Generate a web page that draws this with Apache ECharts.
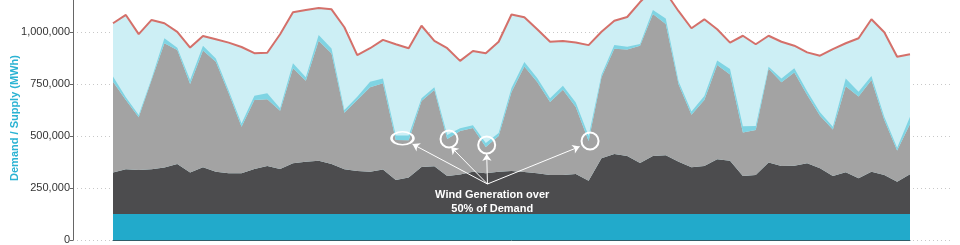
<!DOCTYPE html>
<html>
<head>
<meta charset="utf-8">
<script src="https://cdn.jsdelivr.net/npm/echarts@6/dist/echarts.min.js"></script>
<style>
html,body{margin:0;padding:0;background:#fff;overflow:hidden;}
#chart{width:960px;height:265px;margin-top:-20px;}
</style>
</head>
<body>
<div id="chart"></div>
<script>
// ---- data (thousand MWh per period) ----
var periods = [];
for (var p = 1; p <= 63; p++) periods.push('P' + p);

var yTicks = [0, 250000, 500000, 750000, 1000000];

var nuclear = [125,125,125,125,125,125,125,125,125,125,125,125,125,125,125,125,125,125,125,125,125,125,125,125,125,125,125,125,125,125,125,125,125,125,125,125,125,125,125,125,125,125,125,125,125,125,125,125,125,125,125,125,125,125,125,125,125,125,125,125,125,125,125];
var darkSupply = [199,215,212,215,223,240,199,225,203,196,196,216,231,216,244,251,256,240,215,207,203,214,164,176,226,229,183,190,203,196,203,207,202,196,188,188,192,160,268,289,279,245,279,282,251,225,231,263,256,183,188,247,231,232,244,220,183,201,172,203,188,155,191];
var graySupply = [437,333,253,429,598,548,426,561,529,385,224,332,321,280,457,390,577,532,272,341,406,415,192,179,317,367,178,209,210,126,172,380,507,439,351,409,322,191,389,505,512,564,683,631,371,252,317,453,415,209,216,451,402,448,328,252,223,413,393,441,264,150,242];
var bandSupply = [25,13,11,8,24,11,19,23,16,13,15,21,29,12,24,16,27,24,13,16,27,23,22,22,14,13,19,13,14,19,14,19,22,19,17,19,22,24,12,19,13,8,19,27,15,16,19,22,26,30,19,10,18,21,18,17,14,38,23,19,16,14,35];
var demand = [1042,1082,990,1058,1042,1001,925,981,965,949,928,898,900,989,1095,1106,1115,1109,1023,889,922,962,941,922,1030,957,922,861,909,898,953,1084,1071,1013,953,957,950,937,1001,1054,1072,1144,1205,1190,1100,1018,1061,1013,949,982,941,982,953,934,902,886,918,946,970,1061,999,881,893];

function mwh(arr) { return arr.map(function (v) { return v * 1000; }); }

var chart = echarts.init(document.getElementById('chart'), null, {renderer: 'canvas'});

function areaSeries(name, data, color) {
  return {
    name: name, type: 'line', stack: 'supply', data: mwh(data),
    xAxisIndex: 1, yAxisIndex: 1,
    symbol: 'none', smooth: false, z: 2,
    lineStyle: {width: 0, color: color},
    areaStyle: {color: color, opacity: 1},
    silent: true
  };
}

var font = '"Liberation Sans", Arial, Helvetica, sans-serif';
var ring = {color: 'rgba(0,0,0,0)', borderColor: '#fff', borderWidth: 2};

var option = {
  animation: false,
  grid: [
    {left: 73, right: 10, top: 0, bottom: 5, containLabel: false, outerBoundsMode: 'none'},
    {left: 113, right: 50, top: 0, bottom: 5, containLabel: false, outerBoundsMode: 'none'}
  ],
  xAxis: [
    {type: 'value', gridIndex: 0, min: -3.11, max: 65.11, show: false},
    {type: 'category', gridIndex: 1, data: periods, boundaryGap: false, show: true,
     axisLine: {show: true, onZero: false, lineStyle: {color: '#2f5d68', width: 1}},
     axisTick: {show: false}, axisLabel: {show: false}, splitLine: {show: false}, z: 4}
  ],
  yAxis: [
    {
      type: 'value', gridIndex: 0, min: 0, max: 1250000, interval: 250000,
      name: 'Demand / Supply (MWh)', nameLocation: 'middle', nameGap: 53, nameMoveOverlap: false,
      nameTextStyle: {color: '#2bb3d3', fontWeight: 'bold', fontSize: 11, fontFamily: font, padding: [0, 16, 0, 0]},
      axisLine: {show: true, onZero: false, lineStyle: {color: '#666', width: 1}},
      axisTick: {show: true, length: 3, lineStyle: {color: '#666'}},
      axisLabel: {
        margin: 3, color: '#333', fontSize: 11, fontFamily: font,
        formatter: function (v) { return yTicks.indexOf(v) >= 0 ? v.toLocaleString('en-US') : ''; }
      },
      splitLine: {show: true, lineStyle: {color: '#c8c8c8', type: [1, 3], width: 1}}
    },
    {type: 'value', gridIndex: 1, min: 0, max: 1250000, show: false, splitLine: {show: false}}
  ],
  series: [
    {
      name: 'Demand area', type: 'line', data: mwh(demand), xAxisIndex: 1, yAxisIndex: 1,
      symbol: 'none', z: 1, lineStyle: {width: 0}, areaStyle: {color: '#cdeff5', opacity: 1}, silent: true
    },
    areaSeries('Nuclear', nuclear, '#22aacb'),
    areaSeries('Base', darkSupply, '#4c4c4e'),
    areaSeries('Thermal', graySupply, '#a3a3a3'),
    areaSeries('Solar', bandSupply, '#7fd4e3'),
    {
      name: 'Demand', type: 'line', data: mwh(demand), xAxisIndex: 1, yAxisIndex: 1,
      symbol: 'none', z: 5, lineStyle: {width: 2, color: '#d4706a'}, silent: true
    },
    {
      name: 'Annotation', type: 'scatter', xAxisIndex: 0, yAxisIndex: 0, z: 6,
      data: [[-10, -10]], symbolSize: 0, silent: true,
      markLine: {
        silent: true, symbol: ['none', 'arrow'], symbolSize: 7,
        lineStyle: {color: '#ffffff', width: 1, type: 'solid'},
        label: {show: false},
        data: [
          [{coord: [29.13, 269200]}, {coord: [23.3, 461000]}],
          [{coord: [29.13, 269200]}, {coord: [26.3, 447000]}],
          [{coord: [29.13, 269200]}, {coord: [29.07, 413500]}],
          [{coord: [29.13, 269200]}, {coord: [36.3, 449000]}]
        ]
      },
      markPoint: {
        silent: true,
        data: [
          {coord: [22.52, 488900], symbol: 'circle', symbolSize: [22, 13], itemStyle: ring, label: {show: false}},
          {coord: [26.14, 485600], symbol: 'circle', symbolSize: [17, 17], itemStyle: ring, label: {show: false}},
          {coord: [29.07, 456700], symbol: 'circle', symbolSize: [17, 17], itemStyle: ring, label: {show: false}},
          {coord: [37.11, 475960], symbol: 'circle', symbolSize: [17, 17], itemStyle: ring, label: {show: false}},
          {coord: [29.5, 182000], symbol: 'rect', symbolSize: 1, itemStyle: {color: 'rgba(0,0,0,0)'},
           label: {show: true, position: 'inside', formatter: 'Wind Generation over\n50% of Demand',
                   color: '#fff', fontWeight: 'bold', fontSize: 11, lineHeight: 14.5, fontFamily: font, align: 'center'}}
        ]
      }
    }
  ]
};
chart.setOption(option);
</script>
</body>
</html>
